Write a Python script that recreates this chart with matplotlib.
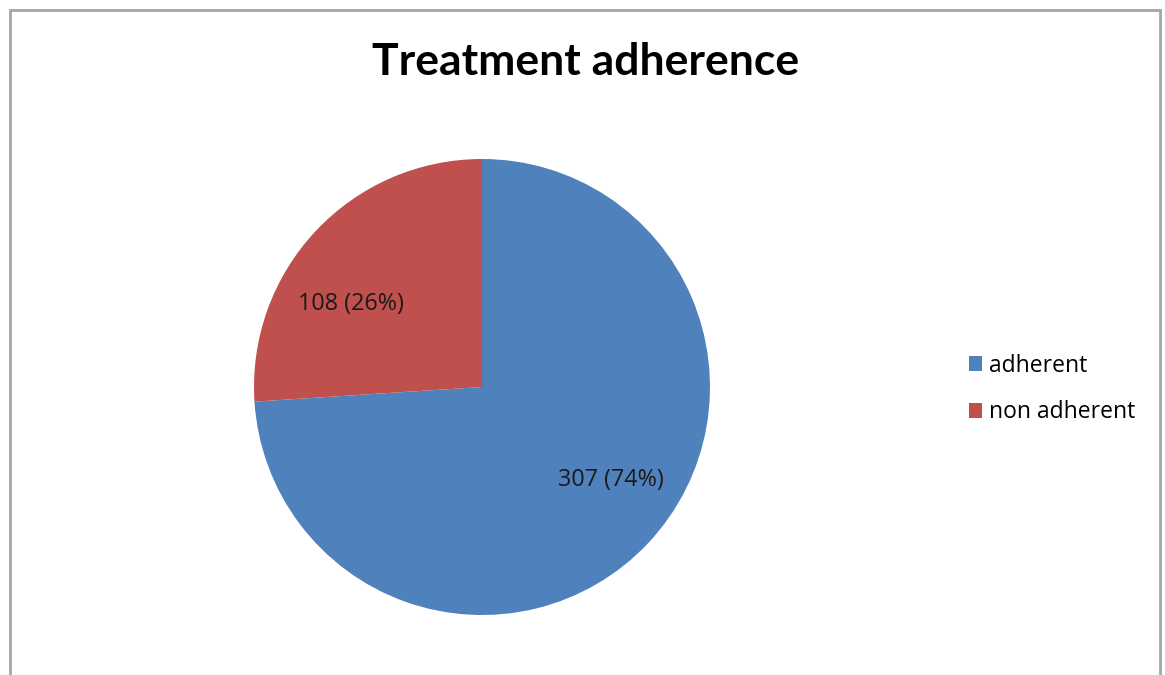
import matplotlib
matplotlib.use("Agg")
import matplotlib.pyplot as plt
from matplotlib.patches import Rectangle

categories = ["adherent", "non adherent"]
counts = [307, 108]
percents = [74, 26]
colors = ["#4F81BD", "#C0504D"]
title = "Treatment adherence"

plt.rcParams['font.family'] = ['Open Sans', 'DejaVu Sans']

W, H = 1165, 675
fig = plt.figure(figsize=(W / 100, H / 100), dpi=100)
fig.patch.set_facecolor("white")

# outer frame
fig.patches.append(Rectangle((10 / W, -0.05), 1150 / W, 1 - 10 / H + 0.05,
                             transform=fig.transFigure, fill=False,
                             edgecolor="#a6a6a6", linewidth=2))

cx, cy, r = 482, 387, 228
ax = fig.add_axes([(cx - r) / W, 1 - (cy + r) / H, 2 * r / W, 2 * r / H])
wedges, _ = ax.pie(counts, colors=colors, startangle=90, counterclock=False,
                   radius=1.0, wedgeprops=dict(edgecolor="none"))
ax.set_xlim(-1, 1)
ax.set_ylim(-1, 1)
ax.set_aspect("equal")
ax.axis("off")

label_pos = [(0.566, -0.408), (-0.575, 0.364)]
for (x, y), c, p in zip(label_pos, counts, percents):
    ax.text(x, y, f"{c} ({p}%)", ha="center", va="center", fontsize=16.8,
            color="#1a1a1a")

fig.text(586 / W, 1 - 62 / H, title, ha="center", va="center",
         fontsize=32, fontweight="bold", color="black", family=["Lato", "DejaVu Sans"])

leg = fig.legend(wedges, categories, loc="center left",
                 bbox_to_anchor=(948 / W, 1 - 389 / H), frameon=False,
                 fontsize=16.5, handlelength=0.6, handleheight=0.6,
                 handletextpad=0.3, labelspacing=1.0)

fig.savefig("out.png", dpi=100, facecolor="white")
